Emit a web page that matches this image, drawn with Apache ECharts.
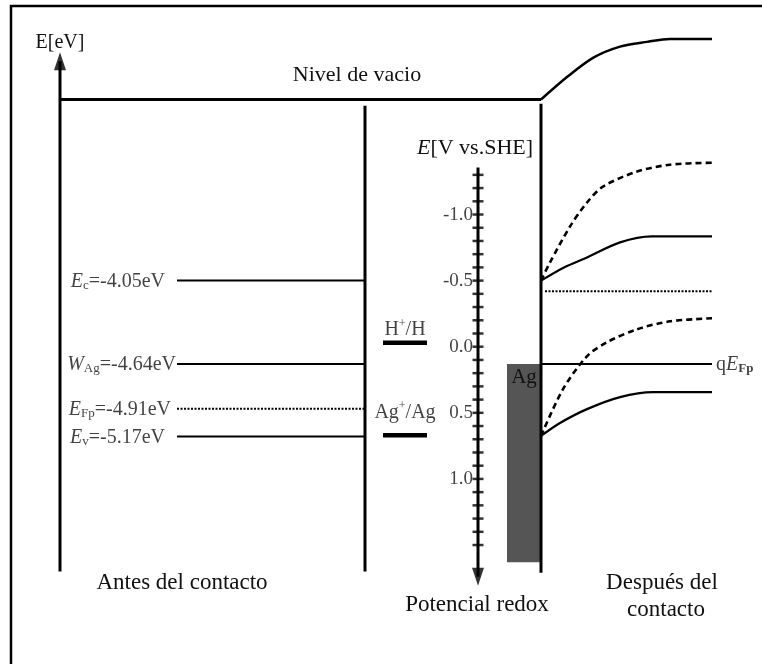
<!DOCTYPE html>
<html><head><meta charset="utf-8">
<script src="https://cdn.jsdelivr.net/npm/echarts@6/dist/echarts.min.js"></script>
<style>html,body{margin:0;padding:0;background:#fff}#c{width:762px;height:664px}</style>
</head><body><div id="c"></div>
<script>
// ---------------- DATA ----------------
// Energy levels before contact (label values in eV) and their drawn height on the diagram's V-vs-SHE scale
const levelSymbols   = ['E', 'W', 'E', 'E'];
const levelSubs      = ['c', 'Ag', 'Fp', 'v'];
const levelValuesEV  = [-4.05, -4.64, -4.91, -5.17];
const levelDiagramV  = [-0.50, 0.13, 0.47, 0.68];
const levelDotted    = [false, false, true, false];
// Redox potential axis
const redoxTicks = [-1.3,-1.2,-1.1,-1.0,-0.9,-0.8,-0.7,-0.6,-0.5,-0.4,-0.3,-0.2,-0.1,0.0,
                    0.1,0.2,0.3,0.4,0.5,0.6,0.7,0.8,0.9,1.0,1.1,1.2,1.3,1.4,1.5];
const redoxTickLabels = [-1.0, -0.5, 0.0, 0.5, 1.0];
// Redox couples
const coupleNames = ['H+/H', 'Ag+/Ag'];
const coupleV     = [-0.03, 0.67];
// Levels after contact
const vacuumV = -1.87;
const qEFpV = 0.13;
const agBottomV = 1.63;
const dottedAfterV = -0.42;
// Curves after contact: [distance (diagram x), V]
const vacuumCurve   = [[541,-1.87],[567,-2.04],[593,-2.185],[620,-2.27],[647,-2.306],[670,-2.328],[712,-2.328]];
const upperSolid    = [[541,-0.50],[564,-0.60],[587,-0.675],[620,-0.789],[652,-0.834],[712,-0.834]];
const upperDashed   = [[541,-0.50],[550,-0.638],[570,-0.909],[587,-1.091],[603,-1.211],[637,-1.325],[670,-1.377],[712,-1.392]];
const lowerSolid    = [[541,0.675],[560,0.577],[587,0.472],[620,0.381],[653,0.343],[712,0.343]];
const lowerDashed   = [[541,0.675],[563,0.321],[587,0.072],[607,-0.034],[637,-0.132],[670,-0.192],[712,-0.215]];

// ---------------- LAYOUT (diagram x positions, pixel-like units) ----------------
const X = { eAxis: 60, levelStart: 177, mid: 365, contact: 541, redox: 478, coupleL: 383, coupleR: 427,
            agL: 507, afterEnd: 712, dotStart: 545 };
const Y = { eArrow: -2.16, bottom: 1.70, midTop: -1.823, rightTop: -1.838, redoxTop: -1.355, redoxArrow: 1.74 };

const FONT = '"Liberation Serif", "Times New Roman", serif';
const TXT = '#111';

function seg(name, pts, opts) {
  opts = opts || {};
  return {
    type: 'line', name: name, data: pts, symbol: 'none', silent: true, animation: false,
    smooth: opts.smooth || false,
    lineStyle: { color: '#000', width: opts.w || 2, type: opts.type || 'solid', cap: 'butt' },
    z: opts.z || 3
  };
}

const series = [];
// E[eV] axis + left wall
series.push(seg('leftWall', [[X.eAxis, Y.eArrow], [X.eAxis, Y.bottom]], { w: 3 }));
// vacuum level before contact
series.push(seg('vacuum', [[X.eAxis, vacuumV], [X.contact, vacuumV]], { w: 3 }));
// middle wall
series.push(seg('midWall', [[X.mid, Y.midTop], [X.mid, Y.bottom]], { w: 3 }));
// contact wall
series.push(seg('contactWall', [[X.contact, Y.rightTop], [X.contact, Y.bottom + 0.01]], { w: 3 }));
// levels before contact
levelDiagramV.forEach((v, i) => {
  series.push(seg('level' + i, [[X.levelStart, v], [X.mid, v]],
    { w: 2, type: levelDotted[i] ? [2, 1.5] : 'solid' }));
});
// level labels
series.push({
  type: 'scatter', silent: true, animation: false, symbolSize: 0,
  data: levelDiagramV.map((v, i) => ({
    value: [X.levelStart, v],
    label: {
      show: true, position: 'left', distance: i === 1 ? 1 : (i === 2 ? 6 : 12),
      formatter: '{i|' + levelSymbols[i] + '}{s|' + levelSubs[i] + '}{n|=' + levelValuesEV[i].toFixed(2) + 'eV}'
    }
  })),
  label: {
    fontFamily: FONT, color: TXT,
    rich: {
      i: { fontFamily: FONT, fontStyle: 'italic', fontSize: 20, color: TXT, verticalAlign: 'bottom', lineHeight: 22 },
      s: { fontFamily: FONT, fontSize: 13, color: TXT, verticalAlign: 'bottom', lineHeight: 17 },
      n: { fontFamily: FONT, fontSize: 20, color: TXT, verticalAlign: 'bottom', lineHeight: 22 }
    }
  }
});
// redox axis line
series.push(seg('redoxAxis', [[X.redox, Y.redoxTop], [X.redox, Y.redoxArrow]], { w: 3 }));
// redox ticks
series.push({
  type: 'scatter', silent: true, animation: false, symbol: 'rect', symbolSize: [11, 2.5],
  itemStyle: { color: '#000' }, data: redoxTicks.map(v => [X.redox, v]), z: 4
});
// redox tick labels
series.push({
  type: 'scatter', silent: true, animation: false, symbolSize: 0,
  data: redoxTickLabels.map(v => ({ value: [X.redox - 4, v] })),
  label: { show: true, position: 'left', distance: 1, fontFamily: FONT, fontSize: 19, color: TXT,
    formatter: p => p.value[1].toFixed(1) }
});
// arrows
series.push({
  type: 'scatter', silent: true, animation: false, symbol: 'triangle', symbolSize: [12, 18],
  itemStyle: { color: '#000' }, z: 5,
  data: [
    { value: [X.eAxis, Y.eArrow], symbolRotate: 0 },
    { value: [X.redox, Y.redoxArrow], symbolRotate: 180 }
  ]
});
// redox couples
coupleV.forEach((v, i) => {
  series.push(seg('couple' + i, [[X.coupleL, v], [X.coupleR, v]], { w: 4.5 }));
});
series.push({
  type: 'scatter', silent: true, animation: false, symbolSize: 0,
  data: coupleV.map((v, i) => ({
    value: [(X.coupleL + X.coupleR) / 2, v],
    label: { show: true, position: 'top', distance: i === 0 ? 3 : 13,
      formatter: coupleNames[i].replace(/^(\w+)\+\/(\w+)$/, '{n|$1}{p|+}{n|/$2}') }
  })),
  label: {
    rich: {
      n: { fontFamily: FONT, fontSize: 20, color: TXT, verticalAlign: 'bottom', lineHeight: 22 },
      p: { fontFamily: FONT, fontSize: 12, color: TXT, verticalAlign: 'top', lineHeight: 22 }
    }
  }
});
// Ag electrode (metal block)
series.push({
  type: 'line', data: [], silent: true, animation: false,
  markArea: {
    silent: true,
    itemStyle: { color: '#555555' },
    label: { show: true, position: 'insideTop', distance: 3, color: '#111', fontFamily: FONT, fontSize: 21 },
    data: [[{ name: 'Ag', coord: [X.agL, qEFpV] }, { coord: [X.contact, agBottomV] }]]
  }
});
// qEFp line
series.push(seg('qEFp', [[X.contact, qEFpV], [X.afterEnd, qEFpV]], { w: 2 }));
series.push({
  type: 'scatter', silent: true, animation: false, symbolSize: 0,
  data: [{ value: [X.afterEnd, qEFpV] }],
  label: { show: true, position: 'right', distance: 4,
    formatter: '{n|q}{i|E}{s|Fp}',
    rich: {
      n: { fontFamily: FONT, fontSize: 20, color: TXT, verticalAlign: 'bottom', lineHeight: 22 },
      i: { fontFamily: FONT, fontStyle: 'italic', fontSize: 20, color: TXT, verticalAlign: 'bottom', lineHeight: 22 },
      s: { fontFamily: FONT, fontSize: 13, fontWeight: 'bold', color: TXT, verticalAlign: 'bottom', lineHeight: 17 }
    }
  }
});
// dotted level after contact
series.push(seg('dotAfter', [[X.dotStart, dottedAfterV], [X.afterEnd, dottedAfterV]], { w: 2, type: [2, 1.5] }));
// curves
series.push(seg('vacCurve', vacuumCurve, { w: 2.5, smooth: 0.3 }));
series.push(seg('upSolid', upperSolid, { w: 2.2, smooth: 0.3 }));
series.push(seg('upDashed', upperDashed, { w: 2.6, smooth: 0.3, type: [6, 4] }));
series.push(seg('lowSolid', lowerSolid, { w: 2.2, smooth: 0.3 }));
series.push(seg('lowDashed', lowerDashed, { w: 2.6, smooth: 0.3, type: [6, 4] }));

const txt = (x, y, s, size, extra) => Object.assign({
  type: 'text', x: x, y: y,
  style: { text: s, fontFamily: FONT, fontSize: size || 17, fill: TXT, align: 'center', verticalAlign: 'middle' }
}, extra || {});

const chart = echarts.init(document.getElementById('c'), null, { renderer: 'canvas' });
chart.setOption({
  backgroundColor: '#fff',
  animation: false,
  grid: { left: 0, top: 3, width: 762, height: 662.5, containLabel: false },
  xAxis: { type: 'value', min: 0, max: 762, show: false },
  yAxis: { type: 'value', min: -2.6, max: 2.4, inverse: true, show: false },
  graphic: [
    { type: 'polyline', shape: { points: [[11, 664], [11, 6], [762, 6]] }, style: { stroke: '#000', lineWidth: 2.5, fill: null } },
    txt(60, 43, 'E[eV]', 20),
    txt(357, 75, 'Nivel de vacio', 22),
    { type: 'text', x: 475, y: 148, style: {
        text: '{i|E}{n|[V vs.SHE]}', align: 'center', verticalAlign: 'middle',
        rich: { i: { fontFamily: FONT, fontStyle: 'italic', fontSize: 22, fill: TXT },
                n: { fontFamily: FONT, fontSize: 22, fill: TXT } } } },
    txt(182, 583, 'Antes del contacto', 23),
    txt(477, 605, 'Potencial redox', 23),
    txt(662, 583, 'Después del', 23),
    txt(666, 610, 'contacto', 23)
  ],
  series: series
});
</script></body></html>
